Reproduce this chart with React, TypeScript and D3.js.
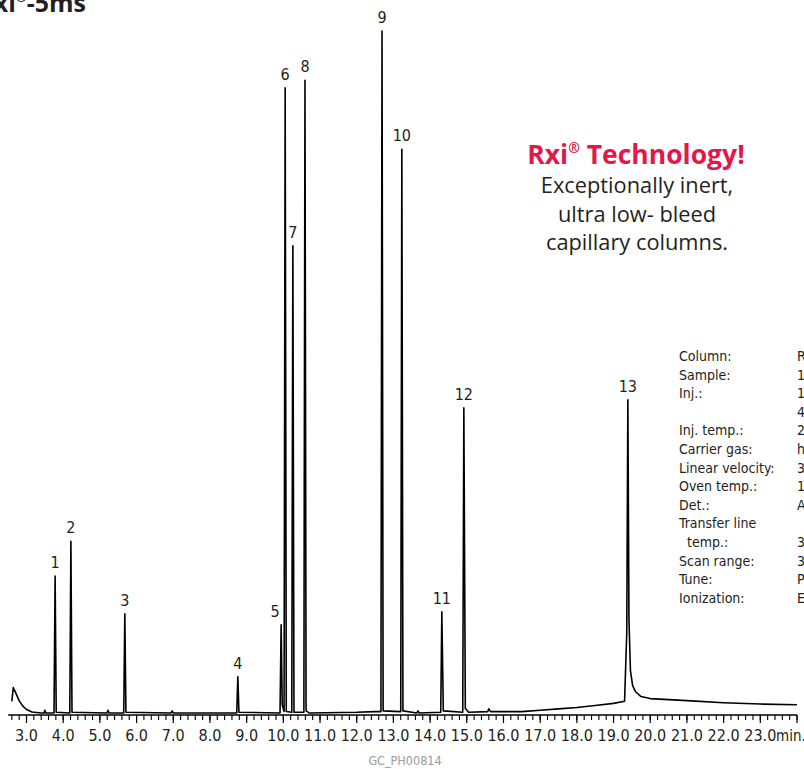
import * as d3 from "d3";

// retention times (min), heights (relative abundance) and labels of the numbered peaks
const peakLabels = ["1", "2", "3", "4", "5", "6", "7", "8", "9", "10", "11", "12", "13"];
const peakTimes = [3.78, 4.21, 5.68, 8.76, 9.94, 10.05, 10.26, 10.59, 12.69, 13.23, 14.32, 14.92, 19.39];
const peakHeights = [20.3, 25.4, 14.8, 5.6, 13.2, 91.7, 68.6, 92.8, 100, 82.7, 15.1, 44.9, 46.1];

// the trace: [time, signal]
const trace: [number, number][] = [
  [2.6, 2.0], [2.64, 4.0], [2.7, 3.3], [2.8, 2.1], [2.9, 1.3], [3.0, 0.8], [3.15, 0.45], [3.4, 0.3],
  [3.48, 0.3], [3.5, 0.7], [3.53, 0.3], [3.75, 0.3], [3.78, 20.3], [3.81, 0.4], [4.18, 0.3],
  [4.21, 25.4], [4.24, 0.4], [5.19, 0.3], [5.22, 0.7], [5.25, 0.3], [5.65, 0.3], [5.68, 14.8],
  [5.71, 0.4], [6.94, 0.3], [6.97, 0.6], [7.0, 0.3], [8.73, 0.3], [8.76, 5.6], [8.79, 0.4],
  [9.91, 0.3], [9.94, 13.2], [9.97, 1.5], [10.02, 0.5], [10.05, 91.7], [10.08, 0.5], [10.23, 0.4],
  [10.26, 68.6], [10.29, 0.4], [10.56, 0.4], [10.59, 92.8], [10.62, 0.6], [10.7, 0.3], [12.0, 0.4],
  [12.5, 0.5], [12.66, 0.5], [12.69, 100], [12.72, 0.6], [13.2, 0.5], [13.23, 82.7], [13.26, 0.6],
  [13.64, 0.3], [13.67, 0.6], [13.7, 0.3], [14.29, 0.4], [14.32, 15.1], [14.36, 0.6], [14.89, 0.4],
  [14.92, 44.9], [14.96, 1.0], [15.05, 0.4], [15.57, 0.5], [15.6, 0.9], [15.65, 0.5], [16.5, 0.5],
  [17.0, 0.7], [17.5, 0.9], [18.0, 1.1], [18.5, 1.4], [19.0, 1.7], [19.3, 2.0], [19.36, 12],
  [19.39, 46.1], [19.42, 14], [19.46, 6.5], [19.52, 4.3], [19.6, 3.4], [19.75, 2.7], [20.0, 2.4],
  [21.0, 2.1], [22.0, 1.8], [23.0, 1.6], [24.0, 1.5],
];

const tickLabels = ["3.0", "4.0", "5.0", "6.0", "7.0", "8.0", "9.0", "10.0", "11.0", "12.0", "13.0",
  "14.0", "15.0", "16.0", "17.0", "18.0", "19.0", "20.0", "21.0", "22.0", "23.0"];

const condLabels = ["Column:", "Sample:", "Inj.:", "", "Inj. temp.:", "Carrier gas:", "Linear velocity:",
  "Oven temp.:", "Det.:", "Transfer line", "  temp.:", "Scan range:", "Tune:", "Ionization:"];
const condValues = ["Rxi®-5ms, 30 m, 0.25 mm ID, 0.25 µm", "1 µg/mL in dichloromethane", "1.0 µL splitless",
  "4 mm single gooseneck liner", "250 °C", "helium, constant flow", "35 cm/sec", "100 °C (hold 1 min)",
  "Agilent 5973 MSD", "", "300 °C", "35-550 amu", "PFTBA", "EI"];

const W = 804;
const H = 769;
const condensed = "'Liberation Sans Narrow', 'DejaVu Sans Condensed', 'Roboto Condensed', sans-serif";
const sans = "'Open Sans', 'Noto Sans', sans-serif";

export default function App() {
  const x = d3.scaleLinear().domain([3, 24]).range([26.5, 797]);
  const y = d3.scaleLinear().domain([0, 100]).range([715, 31]);

  const line = d3
    .line<[number, number]>()
    .x((d) => x(d[0]))
    .y((d) => y(d[1]));

  const minorTicks = d3.range(26, 241).map((i) => i / 10).filter((t) => Math.round(t * 10) % 2 === 0);
  const majorTicks = tickLabels.map((t) => +t);

  return (
    <div style={{ position: "absolute", left: 0, top: 0 }}>
      <svg width={W} height={H} style={{ display: "block", background: "#fff" }}>
        {/* title, cut off at the top left */}
        <text x={86} y={12} textAnchor="end" fontFamily={sans} fontWeight="bold" fontSize={25} fill="#231f20">
          Rxi<tspan fontSize={13} dy={-10}>®</tspan><tspan dy={10}>-5ms</tspan>
        </text>

        {/* axis */}
        <line x1={x(2.5)} x2={x(24)} y1={y(0)} y2={y(0)} stroke="#000" strokeWidth={1.4} />
        {minorTicks.map((t) => (
          <line key={"m" + t} x1={x(t)} x2={x(t)} y1={y(0)} y2={y(0) + 5} stroke="#000" strokeWidth={1.1} />
        ))}
        {majorTicks.map((t) => (
          <line key={"M" + t} x1={x(t)} x2={x(t)} y1={y(0)} y2={y(0) + 8} stroke="#000" strokeWidth={1.2} />
        ))}
        <line x1={x(24)} x2={x(24)} y1={y(0)} y2={y(0) + 8} stroke="#000" strokeWidth={1.2} />
        {tickLabels.map((l) => (
          <text key={l} x={x(+l)} y={741} textAnchor="middle" fontFamily={condensed} fontSize={16} fill="#231f20">
            {l}
          </text>
        ))}
        <text x={776} y={741} fontFamily={condensed} fontSize={15} fill="#231f20">min.</text>

        {/* trace */}
        <path d={line(trace) || ""} fill="none" stroke="#000" strokeWidth={1.6} strokeLinejoin="round" />

        {/* peak numbers */}
        {peakLabels.map((l, i) => (
          <text
            key={l}
            x={x(peakTimes[i]) + (l === "5" ? -6 : 0)}
            y={y(peakHeights[i]) - 8}
            textAnchor="middle"
            fontFamily={condensed}
            fontSize={16}
            fill="#231f20"
          >
            {l}
          </text>
        ))}

        {/* callout */}
        <text x={636} y={164} textAnchor="middle" fontFamily={sans} fontWeight="bold" fontSize={26.5} fill="#e2184b">
          Rxi<tspan fontSize={14} dy={-11}>®</tspan><tspan dy={11}> Technology!</tspan>
        </text>
        {["Exceptionally inert,", "ultra low- bleed", "capillary columns."].map((s, i) => (
          <text key={s} x={637} y={193 + i * 28.5} textAnchor="middle" fontFamily={sans} fontSize={21.8} fill="#231f20">
            {s}
          </text>
        ))}

        {/* conditions */}
        {condLabels.map((s, i) => (
          <text key={"l" + i} x={679} y={361 + i * 18.6} fontFamily={condensed} fontSize={14} fill="#231f20" xmlSpace="preserve">
            {s}
          </text>
        ))}
        {condValues.map((s, i) => (
          <text key={"v" + i} x={797} y={361 + i * 18.6} fontFamily={condensed} fontSize={14} fill="#231f20">
            {s}
          </text>
        ))}

        <text x={405} y={765} textAnchor="middle" fontFamily={condensed} fontSize={12.5} fill="#9a9a9a">
          GC_PH00814
        </text>
      </svg>
    </div>
  );
}
